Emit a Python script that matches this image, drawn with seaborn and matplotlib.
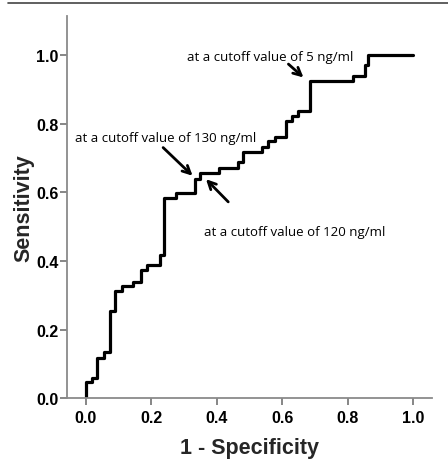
import matplotlib
matplotlib.use("Agg")
import matplotlib.pyplot as plt
from matplotlib.lines import Line2D
import seaborn as sns
import pandas as pd

# ROC curve coordinates (1 - specificity, sensitivity)
fpr = [0.000, 0.000, 0.019, 0.035, 0.055, 0.073, 0.089, 0.109, 0.145, 0.167,
       0.186, 0.226, 0.239, 0.275, 0.333, 0.349, 0.407, 0.466, 0.479, 0.537,
       0.557, 0.578, 0.612, 0.629, 0.649, 0.684, 0.816, 0.852, 0.863, 1.000]
tpr = [0.000, 0.047, 0.058, 0.117, 0.134, 0.255, 0.313, 0.326, 0.340, 0.374,
       0.389, 0.416, 0.582, 0.597, 0.640, 0.656, 0.672, 0.689, 0.718, 0.733,
       0.750, 0.760, 0.808, 0.821, 0.837, 0.923, 0.938, 0.969, 1.000, 1.000]

ticks = [0.0, 0.2, 0.4, 0.6, 0.8, 1.0]
tick_labels = ["0.0", "0.2", "0.4", "0.6", "0.8", "1.0"]

# cutoff callouts: label, text anchor, arrow tail, arrow tip
cutoff_labels = ["at a cutoff value of 5 ng/ml",
                 "at a cutoff value of 130 ng/ml",
                 "at a cutoff value of 120 ng/ml"]
cutoff_text_xy = [(0.308, 0.995), (-0.034, 0.760), (0.361, 0.486)]
cutoff_tail_xy = [(0.619, 0.973), (0.236, 0.730), (0.435, 0.572)]
cutoff_tip_xy = [(0.665, 0.934), (0.326, 0.648), (0.367, 0.638)]

df = pd.DataFrame({"fpr": fpr, "tpr": tpr})

sns.set_style("ticks")
plt.rcParams["font.family"] = ["Liberation Sans", "DejaVu Sans"]

fig = plt.figure(figsize=(4.48, 4.64), dpi=100)
ax = fig.add_axes([0.1502, 0.1392, 0.8134, 0.8242])

sns.lineplot(data=df, x="fpr", y="tpr", ax=ax, sort=False, estimator=None,
             color="black", linewidth=2.3, drawstyle="steps-post")

ax.set_xlim(-0.057, 1.057)
ax.set_ylim(0.0, 1.113)
ax.set_xticks(ticks)
ax.set_xticklabels(tick_labels)
ax.set_yticks(ticks)
ax.set_yticklabels(tick_labels)

for lab in ax.get_xticklabels() + ax.get_yticklabels():
    lab.set_fontweight("bold")
    lab.set_fontsize(11.5)
    lab.set_color("black")

ax.tick_params(axis="both", direction="out", length=5, width=1.1,
               color="#666666")
ax.tick_params(axis="x", pad=3)
ax.tick_params(axis="y", pad=1.5)

sns.despine(ax=ax)
for side in ("left", "bottom"):
    ax.spines[side].set_color("#8a8a8a")
    ax.spines[side].set_linewidth(1.3)

ax.set_xlabel("1 - Specificity", fontsize=15.5, fontweight="bold", labelpad=9)
ax.set_ylabel("Sensitivity", fontsize=15.5, fontweight="bold", labelpad=1)

for label, txy, tail, tip in zip(cutoff_labels, cutoff_text_xy,
                                 cutoff_tail_xy, cutoff_tip_xy):
    ax.text(txy[0], txy[1], label, ha="left", va="center", fontsize=9.5,
            family=["Open Sans", "DejaVu Sans"], color="black")
    ax.annotate("", xy=tip, xytext=tail,
                arrowprops=dict(arrowstyle="->", lw=2.0, color="black",
                                mutation_scale=14, shrinkA=0, shrinkB=0))

# thin rule across the top of the figure
fig.add_artist(Line2D([8 / 448, 1.0], [1 - 4.3 / 464, 1 - 4.3 / 464],
                      transform=fig.transFigure, color="#444444", lw=1.2))

fig.savefig("out.png", dpi=100, facecolor="white")
